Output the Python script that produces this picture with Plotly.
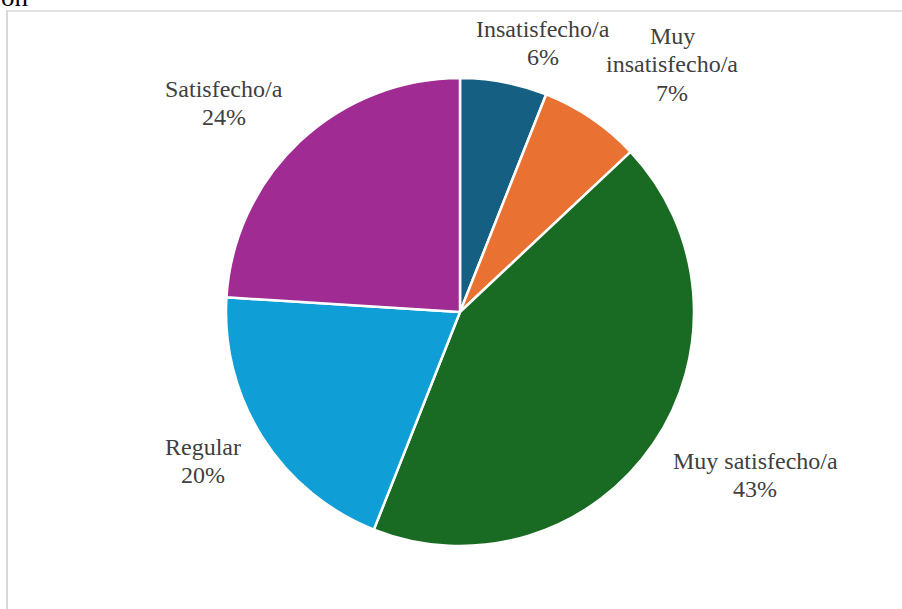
import plotly.graph_objects as go

# Survey satisfaction shares (percent)
categories = ["Insatisfecho/a", "Muy insatisfecho/a", "Muy satisfecho/a", "Regular", "Satisfecho/a"]
values = [6, 7, 43, 20, 24]
label_lines = [["Insatisfecho/a"], ["Muy", "insatisfecho/a"], ["Muy satisfecho/a"], ["Regular"], ["Satisfecho/a"]]
colors = ["#156082", "#E97132", "#196B24", "#0F9ED5", "#A02B93"]

W, H = 902, 609
LINE_PITCH = 28.3


def px_x(x):
    return x / W


def px_y(y):
    return 1 - y / H


# label anchors in pixels: horizontal centre, middle of first line
label_xy = [(543, 29), (672, 36), (755, 461), (203, 447), (224, 89)]

fig = go.Figure(
    go.Pie(
        labels=categories,
        values=values,
        sort=False,
        direction="clockwise",
        rotation=0,
        marker=dict(colors=colors, line=dict(color="white", width=2.5)),
        textinfo="none",
        hoverinfo="label+percent",
        showlegend=False,
        domain=dict(x=[px_x(226), px_x(694)], y=[px_y(546), px_y(78)]),
    )
)

label_font = dict(family="Liberation Serif, Times New Roman, serif", size=24, color="#404040")

annotations = []
for lines, val, (cx, cy) in zip(label_lines, values, label_xy):
    for i, line in enumerate(lines + [f"{val}%"]):
        annotations.append(
            dict(
                text=line,
                x=px_x(cx),
                y=px_y(cy + i * LINE_PITCH),
                xref="paper",
                yref="paper",
                xanchor="center",
                yanchor="middle",
                showarrow=False,
                font=label_font,
            )
        )

# tail of the clipped heading above the frame
annotations.append(
    dict(
        text="ón",
        x=0,
        y=px_y(14),
        xref="paper",
        yref="paper",
        xanchor="left",
        yanchor="bottom",
        showarrow=False,
        font=dict(family="Liberation Serif, Times New Roman, serif", size=27, color="black"),
        xshift=-1,
    )
)

shapes = [
    dict(type="line", xref="paper", yref="paper",
         x0=px_x(7), x1=px_x(7), y0=px_y(10), y1=0,
         line=dict(color="#D9D9D9", width=2)),
    dict(type="line", xref="paper", yref="paper",
         x0=px_x(7), x1=1, y0=px_y(11), y1=px_y(11),
         line=dict(color="#D9D9D9", width=1.5)),
]

fig.update_layout(
    width=W,
    height=H,
    margin=dict(l=0, r=0, t=0, b=0),
    paper_bgcolor="white",
    plot_bgcolor="white",
    annotations=annotations,
    shapes=shapes,
)

fig.write_html("out.html")
